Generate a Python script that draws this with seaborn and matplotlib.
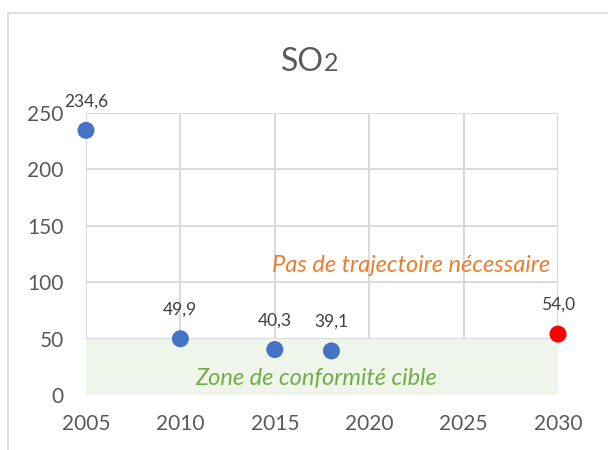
import matplotlib
matplotlib.use("Agg")
import matplotlib.pyplot as plt
import seaborn as sns
import pandas as pd
from matplotlib.patches import Rectangle

years = [2005, 2010, 2015, 2018, 2030]
values = [234.6, 49.9, 40.3, 39.1, 54.0]
kinds = ["hist", "hist", "hist", "hist", "cible"]
labels = ["234,6", "49,9", "40,3", "39,1", "54,0"]
x_ticks = [2005, 2010, 2015, 2020, 2025, 2030]
y_ticks = [0, 50, 100, 150, 200, 250]
zone_low, zone_high = 0, 50
title_main, title_sub = "SO", "2"
text_upper = "Pas de trajectoire nécessaire"
text_zone = "Zone de conformité cible"

df = pd.DataFrame({"year": years, "value": values, "kind": kinds})

sns.set_theme(style="white")
plt.rcParams["font.family"] = ["Lato", "DejaVu Sans"]

fig = plt.figure(figsize=(6.08, 4.5), dpi=100)
ax = fig.add_axes([86/608, 1-395/450, (558-86)/608, (395-113)/450])

# outer chart frame
fig.patches.append(Rectangle((8/608, -0.1), 1.2, 1 - 13/450 + 0.1, transform=fig.transFigure,
                             fill=False, edgecolor="#D9D9D9", linewidth=1.2, zorder=0))

ax.fill_between([x_ticks[0], x_ticks[-1]], zone_low, zone_high, color="#F0F5EC", zorder=1, linewidth=0)

sns.scatterplot(data=df, x="year", y="value", hue="kind",
                palette={"hist": "#4472C4", "cible": "#FF0000"},
                s=150, edgecolor="none", legend=False, ax=ax, zorder=5, clip_on=False)

for x, y, t in zip(years, values, labels):
    ax.annotate(t, (x, y), xytext=(0, 21), textcoords="offset points", ha="center",
                va="center", fontsize=12.5, color="#404040", zorder=6)

ax.set_xlim(x_ticks[0], x_ticks[-1])
ax.set_ylim(y_ticks[0], y_ticks[-1])
ax.set_xticks(x_ticks)
ax.set_yticks(y_ticks)
ax.grid(True, color="#D9D9D9", linewidth=1.4)
ax.set_axisbelow(True)
for s in ax.spines.values():
    s.set_visible(False)
ax.tick_params(axis="both", length=0, labelsize=15, colors="#595959")
ax.tick_params(axis="y", pad=16)
ax.tick_params(axis="x", pad=14)
ax.set_xlabel("")
ax.set_ylabel("")

ax.text(2022.2, 115, text_upper, ha="center", va="center", fontsize=17,
        style="italic", color="#ED7D31", zorder=4)
ax.text(2017.2, 15, text_zone, ha="center", va="center", fontsize=17,
        style="italic", color="#70AD47", zorder=4)

fig.text(324/608, 1-71/450, title_main, ha="right", va="baseline", fontsize=23, color="#595959")
fig.text(324/608, 1-71/450, title_sub, ha="left", va="baseline", fontsize=18, color="#595959")

fig.savefig("out.png", dpi=100)
